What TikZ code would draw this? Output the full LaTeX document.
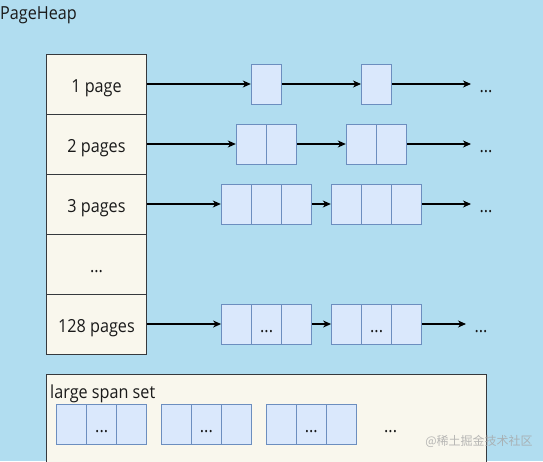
\documentclass[tikz,border=0pt]{standalone}
\usepackage{fontspec}
\setmainfont{Open Sans}[FakeStretch=0.9]
\newfontfamily\cjk{Noto Sans CJK SC}
\usetikzlibrary{arrows.meta}
\definecolor{bgblue}{HTML}{B1DDF0}
\definecolor{colfill}{HTML}{F9F7ED}
\definecolor{colline}{HTML}{36393D}
\definecolor{cellfill}{HTML}{DAE8FC}
\definecolor{cellline}{HTML}{6C8EBF}
\definecolor{txt}{HTML}{1A1A1A}
\tikzset{
  txtfont/.style={font=\fontsize{18}{20}\selectfont, text=txt},
  colbox/.style={draw=colline, fill=colfill, line width=1pt, rectangle, minimum width=100pt, minimum height=60pt, inner sep=0pt, txtfont, text height=16pt, text depth=0pt},
  cellbox/.style={draw=cellline, fill=cellfill, line width=1pt, rectangle, minimum width=30pt, minimum height=40pt, inner sep=0pt, txtfont, text height=16pt, text depth=0pt},
  dotsnode/.style={inner sep=0pt, txtfont, text height=16pt, text depth=0pt},
  arr/.style={line width=1.1pt, black, -{Stealth[length=8pt,width=7pt,inset=2.5pt]}},
}
\begin{document}
\begin{tikzpicture}[x=1pt,y=-1pt]
\fill[bgblue] (0,0) rectangle (543,461);
\useasboundingbox (0,0) rectangle (543,461);
\clip (0,0) rectangle (543,461);

\node[anchor=base west, inner sep=0pt, txtfont] (title) at (0,19.3) {PageHeap};

% column
\node[colbox] (c1) at (96.5,84) {1 page};
\node[colbox] (c2) at (96.5,144) {2 pages};
\node[colbox] (c3) at (96.5,204) {3 pages};
\node[colbox] (c4) at (96.5,264) {...};
\node[colbox] (c128) at (96.5,324) {128 pages};

% row 1
\node[cellbox] (r1a) at (266.3,84) {};
\node[cellbox] (r1b) at (376.5,84) {};
\node[dotsnode] (e1) at (486,84) {...};
\coordinate (t1) at (471,84);
\draw[arr] (c1.east) -- (r1a.west);
\draw[arr] (r1a.east) -- (r1b.west);
\draw[arr] (r1b.east) -- (t1);

% row 2
\node[cellbox] (r2a1) at (251.3,144) {};
\node[cellbox] (r2a2) at (281.3,144) {};
\node[cellbox] (r2b1) at (361.3,144) {};
\node[cellbox] (r2b2) at (391.3,144) {};
\node[dotsnode] (e2) at (486,144) {...};
\coordinate (t2) at (471,144);
\draw[arr] (c2.east) -- (r2a1.west);
\draw[arr] (r2a2.east) -- (r2b1.west);
\draw[arr] (r2b2.east) -- (t2);

% row 3
\node[cellbox] (r3a1) at (236.3,204) {};
\node[cellbox] (r3a2) at (266.3,204) {};
\node[cellbox] (r3a3) at (296.3,204) {};
\node[cellbox] (r3b1) at (346.3,204) {};
\node[cellbox] (r3b2) at (376.3,204) {};
\node[cellbox] (r3b3) at (406.3,204) {};
\node[dotsnode] (e3) at (486,204) {...};
\coordinate (t3) at (471,204);
\draw[arr] (c3.east) -- (r3a1.west);
\draw[arr] (r3a3.east) -- (r3b1.west);
\draw[arr] (r3b3.east) -- (t3);

% row 128
\node[cellbox] (r4a1) at (236.6,324) {};
\node[cellbox] (r4a2) at (266.6,324) {...};
\node[cellbox] (r4a3) at (296.6,324) {};
\node[cellbox] (r4b1) at (346.6,324) {};
\node[cellbox] (r4b2) at (376.6,324) {...};
\node[cellbox] (r4b3) at (406.6,324) {};
\node[dotsnode] (e4) at (481,324) {...};
\coordinate (t4) at (466,324);
\draw[arr] (c128.east) -- (r4a1.west);
\draw[arr] (r4a3.east) -- (r4b1.west);
\draw[arr] (r4b3.east) -- (t4);

% large span set
\node[draw=colline, fill=colfill, line width=1pt, rectangle, minimum width=440pt, minimum height=100pt, inner sep=0pt] (lss) at (266.6,424.5) {};
\node[anchor=base west, inner sep=0pt, txtfont] (lsslabel) at (50,398) {large span set};
\node[cellbox] (l1a) at (71.7,424) {};
\node[cellbox] (l1b) at (101.7,424) {...};
\node[cellbox] (l1c) at (131.7,424) {};
\node[cellbox] (l2a) at (176.4,424) {};
\node[cellbox] (l2b) at (206.4,424) {...};
\node[cellbox] (l2c) at (236.4,424) {};
\node[cellbox] (l3a) at (281.3,424) {};
\node[cellbox] (l3b) at (311.3,424) {...};
\node[cellbox] (l3c) at (341.3,424) {};
\node[dotsnode] (l4) at (390.6,424) {...};

% watermark
\node[inner sep=0pt, text=gray!70, opacity=0.8, font=\cjk\fontsize{12}{14}\selectfont] (wm) at (479,441.7) {@稀土掘金技术社区};
\end{tikzpicture}
\end{document}
